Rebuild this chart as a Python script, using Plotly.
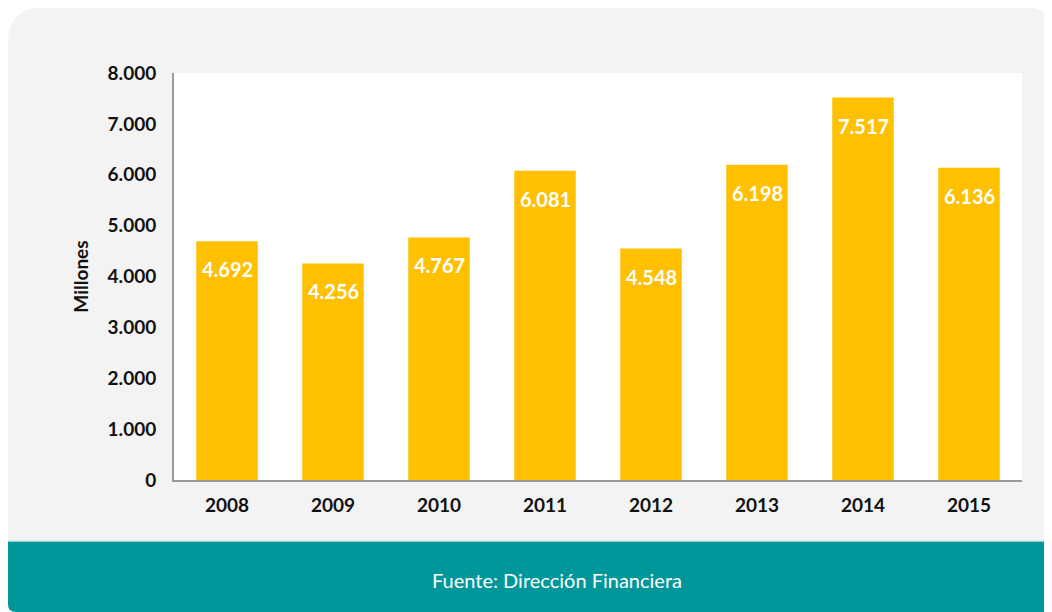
import plotly.graph_objects as go

years = ["2008", "2009", "2010", "2011", "2012", "2013", "2014", "2015"]
millones = [4692, 4256, 4767, 6081, 4548, 6198, 7517, 6136]
y_ticks = [0, 1000, 2000, 3000, 4000, 5000, 6000, 7000, 8000]

# the page body adds an 8px offset, so pixel positions below are
# reference pixels minus 8
OFF = 8
W, H = 1052 - OFF, 612 - OFF
L, R, T, B = 174 - OFF, 1022 - OFF, 73 - OFF, 480 - OFF  # plot area


def px(x):
    return (x - OFF - L) / (R - L)


def py(y):
    return (B - (y - OFF)) / (B - T)


def rounded_path(x0, y0, x1, y1, r_tl, r_tr, r_br, r_bl):
    # pixel rect (reference coords) with rounded corners -> paper path
    return (
        f"M {px(x0 + r_tl)},{py(y0)} L {px(x1 - r_tr)},{py(y0)} "
        f"Q {px(x1)},{py(y0)} {px(x1)},{py(y0 + r_tr)} "
        f"L {px(x1)},{py(y1 - r_br)} Q {px(x1)},{py(y1)} {px(x1 - r_br)},{py(y1)} "
        f"L {px(x0 + r_bl)},{py(y1)} Q {px(x0)},{py(y1)} {px(x0)},{py(y1 - r_bl)} "
        f"L {px(x0)},{py(y0 + r_tl)} Q {px(x0)},{py(y0)} {px(x0 + r_tl)},{py(y0)} Z"
    )


fig = go.Figure()
fig.add_trace(
    go.Bar(
        x=years,
        y=millones,
        marker=dict(color="#FFC000", line=dict(width=0)),
        hoverinfo="x+y",
    )
)

# value labels sitting just under the top of each bar
# (category axis: numeric x means category index)
labels = [
    dict(x=i, y=v, xref="x", yref="y", text=f"{v:,d}".replace(",", "."),
         showarrow=False, yanchor="middle", xanchor="center", yshift=-28,
         font=dict(family="Lato", size=20, color="white", weight="bold"))
    for i, v in enumerate(millones)
]

shapes = [
    # grey card
    dict(type="path", xref="paper", yref="paper", layer="below",
         path=rounded_path(8, 7, 1058, 640, 36, 36, 0, 0),
         fillcolor="#f3f3f3", line=dict(width=0)),
    # teal footer
    dict(type="path", xref="paper", yref="paper", layer="below",
         path=rounded_path(8, 541, 1060, 612, 0, 0, 0, 8),
         fillcolor="#00979A", line=dict(width=0)),
    dict(type="line", xref="paper", yref="paper", layer="below",
         x0=px(8), x1=px(1060), y0=py(541), y1=py(541),
         line=dict(color="#cfe3e3", width=1.5)),
    # white plot area
    dict(type="rect", xref="paper", yref="paper", layer="below",
         x0=0, x1=1, y0=0, y1=1, fillcolor="white", line=dict(width=0)),
]

fig.update_layout(
    width=W,
    height=H,
    margin=dict(l=L, r=W - R, t=T, b=H - B, pad=0),
    paper_bgcolor="white",
    plot_bgcolor="rgba(0,0,0,0)",
    separators=",.",
    bargap=0.42,
    showlegend=False,
    shapes=shapes,
    font=dict(family="Lato", color="#111111"),
    annotations=labels + [
        dict(text="Fuente: Dirección Financiera", xref="paper", yref="paper",
             x=px(557), y=py(580), xanchor="center", yanchor="middle",
             showarrow=False, font=dict(family="Lato", size=20, color="white")),
    ],
)
fig.update_xaxes(
    type="category", categoryorder="array", categoryarray=years,
    range=[-0.5, len(years) - 0.5],
    showline=True, linecolor="#9a9a9a", linewidth=2,
    ticks="", ticklabelstandoff=7,
    tickfont=dict(family="Lato", size=19, color="#111111", weight="bold"),
    showgrid=False, fixedrange=True,
)
fig.update_yaxes(
    range=[0, 8000], tickvals=y_ticks, tickformat=",d",
    showline=True, linecolor="#9a9a9a", linewidth=2,
    ticks="", ticklabelstandoff=12,
    tickfont=dict(family="Lato", size=19, color="#111111", weight="bold"),
    showgrid=False, zeroline=False, fixedrange=True,
    title=dict(text="Millones", standoff=14,
               font=dict(family="Lato", size=19, color="#111111", weight="bold")),
)

fig.write_html("out.html")
